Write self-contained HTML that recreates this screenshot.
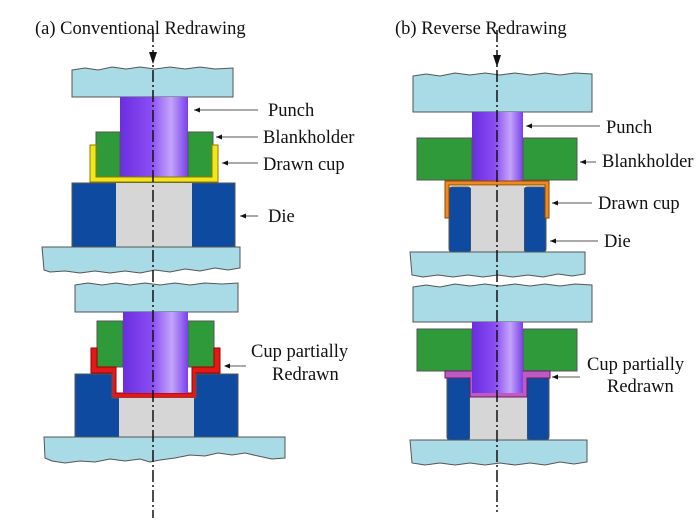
<!DOCTYPE html>
<html><head><meta charset="utf-8"><style>
html,body{margin:0;padding:0;background:#fff}
svg{display:block}
text{font-family:"Liberation Serif",serif;font-size:18.5px;fill:#111}
</style></head><body>
<svg width="700" height="525" viewBox="0 0 700 525" xmlns="http://www.w3.org/2000/svg">
<defs>
<linearGradient id="pg" x1="0" x2="1" y1="0" y2="0">
<stop offset="0" stop-color="#6a2ee0"/><stop offset="0.45" stop-color="#8a4cf2"/><stop offset="0.75" stop-color="#c3a4fb"/><stop offset="1" stop-color="#7a40ea"/>
</linearGradient>
</defs>
<g stroke="#555" stroke-width="1">
<!-- LEFT TOP -->
<path d="M72,70 L85,68 L98,70 L112,67 L126,69 L140,67 L155,69 L170,67 L185,69 L200,67 L215,69 L233,68 L233,97 L72,97 Z" fill="#a9dbe6"/>
<rect x="120" y="97" width="68" height="80" fill="url(#pg)" stroke="none"/>
<path d="M96,132 H120 V177 H96 Z M188,132 H213 V177 H188 Z" fill="#2e9a3a"/>
<path d="M90,145 H96 V177 H212 V145 H218 V182 H90 Z" fill="#f4e41a" stroke="#8a7d00"/>
<rect x="72" y="183" width="163" height="64" fill="#0d4aa0"/>
<rect x="116" y="183" width="76" height="64" fill="#d6d6d6" stroke="none"/>
<path d="M42,247 L240,247 L240,268 L228,270 L215,268 L200,271 L185,269 L170,272 L155,270 L140,273 L125,271 L110,273 L95,271 L80,273 L65,271 L50,272 L44,270 Z" fill="#a9dbe6"/>
<!-- LEFT BOTTOM -->
<path d="M75,285 L88,283 L102,285 L116,283 L130,285 L145,283 L160,285 L175,283 L190,285 L205,283 L222,284 L238,283 L238,312 L75,312 Z" fill="#a9dbe6"/>
<path d="M97,321 H123 V367 H97 Z M188,321 H214 V367 H188 Z" fill="#2e9a3a"/>
<path d="M91,348 H97 V367 H116 V393 H192 V367 H214 V348 H220 V373 H196 V398 H112 V373 H91 Z" fill="#e51818" stroke="#900"/>
<rect x="123" y="312" width="65" height="81" fill="url(#pg)" stroke="none"/>
<path d="M75,374 H112 V398 H196 V374 H238 V437 H75 Z" fill="#0d4aa0"/>
<rect x="119" y="398" width="75" height="39" fill="#d6d6d6" stroke="none"/>
<path d="M44,437 L285,437 L285,458 L272,459 L258,456 L245,453 L232,455 L218,453 L205,456 L190,455 L175,458 L160,460 L150,462 L140,459 L125,461 L110,459 L95,462 L80,461 L65,463 L52,461 L45,458 Z" fill="#a9dbe6"/>
<!-- RIGHT TOP -->
<path d="M413,76 L426,74 L440,76 L455,73 L470,75 L485,73 L500,75 L515,73 L530,75 L545,73 L560,75 L575,73 L592,74 L592,112 L413,112 Z" fill="#a9dbe6"/>
<rect x="472" y="112" width="51" height="70" fill="url(#pg)" stroke="none"/>
<path d="M417,138 H472 V180 H417 Z M523,138 H577 V180 H523 Z" fill="#2e9a3a"/>
<rect x="449" y="187" width="22" height="65" rx="3" fill="#0d4aa0"/>
<rect x="524" y="187" width="22" height="65" rx="3" fill="#0d4aa0"/>
<rect x="471" y="186" width="53" height="66" fill="#d6d6d6" stroke="none"/>
<path d="M445,181 H549 V218 H545 V185 H449 V218 H445 Z" fill="#f08a20" stroke="#8a4a00"/>
<path d="M410,252 L585,252 L585,274 L572,276 L558,274 L543,277 L528,275 L513,277 L498,275 L483,277 L468,275 L453,277 L438,275 L423,277 L412,275 Z" fill="#a9dbe6"/>
<!-- RIGHT BOTTOM -->
<path d="M413,287 L426,285 L440,287 L455,284 L470,286 L485,284 L500,286 L515,284 L530,286 L545,284 L560,286 L575,284 L592,285 L592,322 L413,322 Z" fill="#a9dbe6"/>
<path d="M417,329 H472 V371 H417 Z M523,329 H577 V371 H523 Z" fill="#2e9a3a"/>
<rect x="447" y="375" width="23" height="65" rx="3" fill="#0d4aa0"/>
<rect x="527" y="375" width="22" height="65" rx="3" fill="#0d4aa0"/>
<rect x="470" y="397" width="57" height="43" fill="#d6d6d6" stroke="none"/>
<path d="M445,371 H550 V378 H527 V397 H470 V378 H445 Z" fill="#c05ac0" stroke="#6a1a6a"/>
<rect x="472" y="322" width="51" height="71" fill="url(#pg)" stroke="none"/>
<path d="M410,440 L587,440 L587,462 L574,464 L560,462 L545,465 L530,463 L515,465 L500,463 L485,465 L470,463 L455,465 L440,463 L425,465 L412,463 Z" fill="#a9dbe6"/>
</g>
<!-- centre lines -->
<g stroke="#111" stroke-width="1.5" stroke-dasharray="12,3,2,3" fill="none">
<line x1="153" y1="30" x2="153" y2="518"/>
<line x1="497" y1="30" x2="497" y2="512"/>
</g>
<path d="M149,52 L157,52 L153,64 Z M493,55 L501,55 L497,67 Z" fill="#111"/>
<!-- leader lines -->
<g stroke="#555" stroke-width="1">
<line x1="194" y1="110" x2="258" y2="110"/>
<line x1="216" y1="137" x2="258" y2="137"/>
<line x1="222" y1="163" x2="258" y2="163"/>
<line x1="240" y1="216" x2="258" y2="216"/>
<line x1="226" y1="366" x2="246" y2="366"/>
<line x1="526" y1="126" x2="600" y2="126"/>
<line x1="580" y1="162" x2="596" y2="162"/>
<line x1="552" y1="203" x2="592" y2="203"/>
<line x1="550" y1="241" x2="598" y2="241"/>
<line x1="552" y1="377" x2="580" y2="377"/>
</g>
<g fill="#111">
<path d="M194,110 l6,-2.5 v5 Z M216,137 l6,-2.5 v5 Z M222,163 l6,-2.5 v5 Z M240,216 l6,-2.5 v5 Z M224,366 l6,-2.5 v5 Z M526,126 l6,-2.5 v5 Z M580,162 l6,-2.5 v5 Z M552,203 l6,-2.5 v5 Z M550,241 l6,-2.5 v5 Z M552,377 l6,-2.5 v5 Z"/>
</g>
<text x="35" y="34">(a) Conventional Redrawing</text>
<text x="395" y="34">(b) Reverse Redrawing</text>
<text x="268" y="116">Punch</text>
<text x="263" y="143">Blankholder</text>
<text x="263" y="170">Drawn cup</text>
<text x="268" y="222">Die</text>
<text x="251" y="357">Cup partially</text>
<text x="272" y="380">Redrawn</text>
<text x="606" y="133">Punch</text>
<text x="602" y="167">Blankholder</text>
<text x="598" y="209">Drawn cup</text>
<text x="604" y="247">Die</text>
<text x="587" y="370">Cup partially</text>
<text x="607" y="392">Redrawn</text>
</svg>
</body></html>
